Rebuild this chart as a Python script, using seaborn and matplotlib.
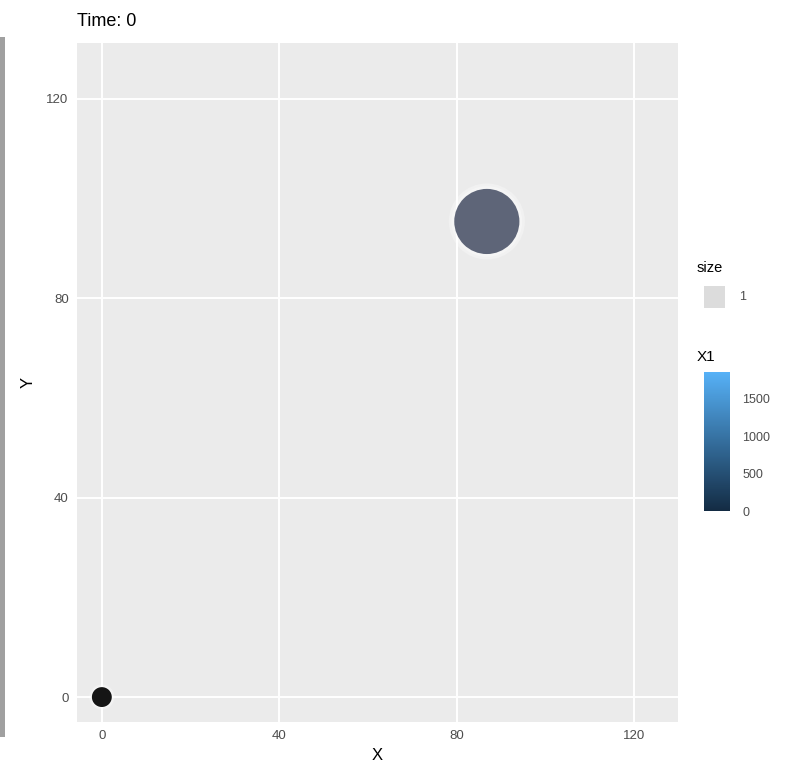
import numpy as np
import pandas as pd
import seaborn as sns
import matplotlib.pyplot as plt
import matplotlib as mpl
from matplotlib.patches import Rectangle

# point data for the frame
xs = [0.0, 86.8]
ys = [0.0, 95.4]
x1_vals = [0.0, 1860.0]
point_colors = ["#151515", "#5e6578"]
point_sizes = [205, 2200]

x_ticks = [0, 40, 80, 120]
y_ticks = [0, 40, 80, 120]
cbar_ticks = [0, 500, 1000, 1500]
title_text = "Time: 0"

sns.set_theme(style="darkgrid")
plt.rcParams["font.family"] = ["Liberation Sans", "DejaVu Sans"]

df = pd.DataFrame({"X": xs, "Y": ys, "X1": x1_vals,
                   "sz": point_sizes})

fig = plt.figure(figsize=(7.85, 7.75), dpi=100)
fig.patch.set_facecolor("white")
W, H = 785, 775
ax = fig.add_axes([77 / W, 1 - 722 / H, (678 - 77) / W, (722 - 43) / H])
ax.set_facecolor("#ebebeb")

# soft halo behind each point
sns.scatterplot(data=df, x="X", y="Y", size="sz", sizes=(330, 3000),
                color="white", alpha=0.3, linewidth=0, legend=False, ax=ax,
                zorder=2)
sns.scatterplot(data=df, x="X", y="Y", size="sz", sizes=(260, 2600),
                color="white", alpha=0.3, linewidth=0, legend=False, ax=ax,
                zorder=2)
palette = {v: c for v, c in zip(x1_vals, point_colors)}
sns.scatterplot(data=df, x="X", y="Y", hue="X1", palette=palette,
                size="sz", sizes=(min(point_sizes), max(point_sizes)),
                linewidth=0, legend=False, ax=ax, zorder=3)

ax.set_xlim(-5.6, 129.9)
ax.set_ylim(-5.0, 131.2)
ax.set_xticks(x_ticks)
ax.set_yticks(y_ticks)
ax.grid(True, color="white", linewidth=1.4)
ax.set_axisbelow(True)
for s in ax.spines.values():
    s.set_visible(False)
ax.tick_params(axis="both", which="major", length=3, width=0.9,
               color="#4d4d4d", labelcolor="#4d4d4d", labelsize=9.5, pad=3)
ax.set_xlabel("X", fontsize=12, color="black", labelpad=4)
ax.set_ylabel("Y", fontsize=12, color="black", labelpad=8)
fig.text(77 / W, 1 - 22 / H, title_text, fontsize=13, color="black",
         ha="left", va="center")

# size legend
fig.text(697 / W, 1 - 268 / H, "size", fontsize=10.5, color="black",
         ha="left", va="center")
fig.patches.append(Rectangle((704 / W, 1 - 308 / H), 21 / W, 22 / H,
                             transform=fig.transFigure, facecolor="#dcdcdc",
                             edgecolor="none"))
fig.text(739 / W, 1 - 297 / H, "1", fontsize=9, color="#4d4d4d",
         ha="left", va="center")

# colour bar for X1
fig.text(697 / W, 1 - 357 / H, "X1", fontsize=11, color="black",
         ha="left", va="center")
cax = fig.add_axes([704 / W, 1 - 511 / H, 26 / W, (511 - 372) / H])
cmap = mpl.colors.LinearSegmentedColormap.from_list("x1", ["#132B43", "#56B1F7"])
norm = mpl.colors.Normalize(vmin=min(x1_vals), vmax=max(x1_vals))
cb = mpl.colorbar.ColorbarBase(cax, cmap=cmap, norm=norm, ticks=cbar_ticks)
cb.outline.set_visible(False)
cax.tick_params(axis="y", direction="in", length=5, width=0.8, color="white",
                labelcolor="#4d4d4d", labelsize=9, pad=9)

# grey strip along the left edge
fig.patches.append(Rectangle((0, 1 - 737 / H), 5 / W, 700 / H,
                             transform=fig.transFigure, facecolor="#a0a0a0",
                             edgecolor="none"))

fig.savefig("out.png", dpi=100)
